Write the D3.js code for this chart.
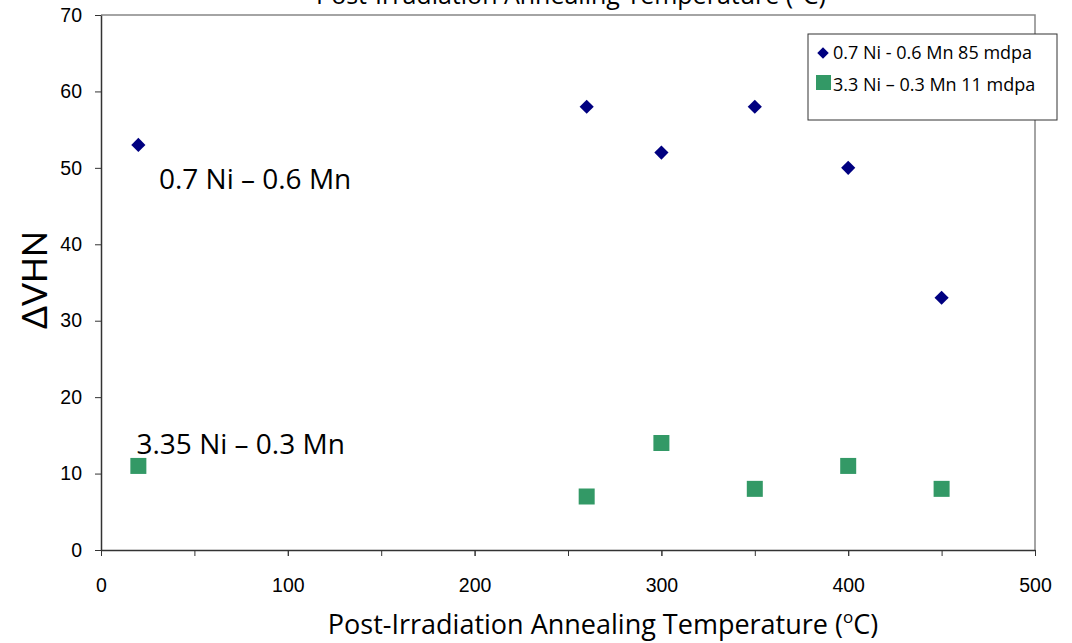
<!DOCTYPE html>
<html>
<head>
<meta charset="utf-8">
<script src="https://cdn.jsdelivr.net/npm/d3@7"></script>
<style>
  body { margin: 0; background: #fff; }
  .calib { font-family: "Open Sans", Lato, sans-serif; fill: #000; }
  .tick text { font-family: "Liberation Sans", Arial, sans-serif; font-size: 19.5px; fill: #000; }
</style>
</head>
<body>
<div class="chart"></div>
<script>
// annealing temperatures (C)
var tempsA = [20, 260, 300, 350, 400, 450];
var vhnA = [53, 58, 52, 58, 50, 33];

var tempsB = [20, 260, 300, 350, 400, 450];
var vhnB = [11, 7, 14, 8, 11, 8];

var seriesNames = ["0.7 Ni - 0.6 Mn 85 mdpa", "3.3 Ni \u2013 0.3 Mn 11 mdpa"];
var xTicks = [0, 100, 200, 300, 400, 500];
var yTicks = [0, 10, 20, 30, 40, 50, 60, 70];

var svgWidth = 1072;
var svgHeight = 643;

var margin = { top: 15, right: 37, bottom: 93, left: 101 };
var width = svgWidth - margin.left - margin.right;
var height = svgHeight - margin.top - margin.bottom;

var svg = d3.select(".chart")
  .append("svg")
  .attr("width", svgWidth)
  .attr("height", svgHeight);

var chartGroup = svg.append("g")
  .attr("transform", `translate(${margin.left}, ${margin.top})`);

var xScale = d3.scaleLinear().domain([0, 500]).range([0, width]);
var yScale = d3.scaleLinear().domain([0, 70]).range([height, 0]);

// top + right frame
chartGroup.append("path")
  .attr("d", `M0,0H${width}V${height}`)
  .attr("fill", "none")
  .attr("stroke", "#868686")
  .attr("stroke-width", 1.5);

// minor ticks every 50 on x
chartGroup.append("g")
  .attr("transform", `translate(0, ${height})`)
  .call(d3.axisBottom(xScale).tickValues(d3.range(0, 501, 50)).tickSize(6).tickFormat(""))
  .call(g => g.select(".domain").remove())
  .selectAll("line").attr("stroke", "#333");

var xAxis = chartGroup.append("g")
  .attr("transform", `translate(0, ${height})`)
  .call(d3.axisBottom(xScale).tickValues(xTicks).tickSize(6).tickPadding(22).tickSizeOuter(0));

var yAxis = chartGroup.append("g")
  .call(d3.axisLeft(yScale).tickValues(yTicks).tickSize(6).tickPadding(13).tickSizeOuter(0));

[xAxis, yAxis].forEach(function(ax) {
  ax.select(".domain").attr("stroke", "#333").attr("stroke-width", 1.5);
  ax.selectAll(".tick line").attr("stroke", "#333");
});

var dataA = tempsA.map((t, i) => ({ t: t, v: vhnA[i] }));
var dataB = tempsB.map((t, i) => ({ t: t, v: vhnB[i] }));

var diamond = d3.symbol().type(d3.symbolDiamond2).size(128);

chartGroup.selectAll(".ptA")
  .data(dataA)
  .enter()
  .append("path")
  .attr("class", "ptA")
  .attr("d", diamond)
  .attr("transform", d => `translate(${xScale(d.t)}, ${yScale(d.v)})`)
  .attr("fill", "#000080");

chartGroup.selectAll(".ptB")
  .data(dataB)
  .enter()
  .append("rect")
  .attr("class", "ptB")
  .attr("x", d => xScale(d.t) - 8)
  .attr("y", d => yScale(d.v) - 8)
  .attr("width", 16)
  .attr("height", 16)
  .attr("fill", "#339966");

// in-plot annotations
chartGroup.append("text")
  .attr("class", "calib")
  .attr("x", xScale(31))
  .attr("y", yScale(47.2))
  .attr("font-size", "28px")
  .text("0.7 Ni \u2013 0.6 Mn");

chartGroup.append("text")
  .attr("class", "calib")
  .attr("x", xScale(19))
  .attr("y", yScale(12.5))
  .attr("font-size", "28px")
  .text("3.35 Ni \u2013 0.3 Mn");

// legend
var legend = svg.append("g").attr("transform", "translate(808, 34)");
legend.append("rect")
  .attr("width", 249)
  .attr("height", 86)
  .attr("fill", "#fff")
  .attr("stroke", "#333")
  .attr("stroke-width", 1);

legend.append("path")
  .attr("d", d3.symbol().type(d3.symbolDiamond2).size(85))
  .attr("transform", "translate(15, 19)")
  .attr("fill", "#000080");
legend.append("rect")
  .attr("x", 8).attr("y", 41).attr("width", 15).attr("height", 15)
  .attr("fill", "#339966");

legend.selectAll(".ltext")
  .data(seriesNames)
  .enter()
  .append("text")
  .attr("class", "calib")
  .attr("x", 25)
  .attr("y", (d, i) => 25 + i * 32)
  .attr("font-size", "18px")
  .text(d => d);

// axis labels
var xLab = svg.append("text")
  .attr("class", "calib")
  .attr("x", 603)
  .attr("y", 634)
  .attr("text-anchor", "middle")
  .attr("font-size", "27px");
xLab.append("tspan").text("Post-Irradiation Annealing Temperature (");
xLab.append("tspan").attr("baseline-shift", "super").attr("font-size", "17px").text("o");
xLab.append("tspan").text("C)");

var title = svg.append("text")
  .attr("class", "calib")
  .attr("x", 571)
  .attr("y", 4)
  .attr("text-anchor", "middle")
  .attr("font-size", "25px");
title.append("tspan").text("Post-Irradiation Annealing Temperature (");
title.append("tspan").attr("baseline-shift", "super").attr("font-size", "16px").text("o");
title.append("tspan").text("C)");

svg.append("text")
  .attr("transform", "translate(47, 280) rotate(-90)")
  .attr("text-anchor", "middle")
  .attr("font-family", "Lato, sans-serif")
  .attr("font-size", "34px")
  .text("\u0394VHN");
</script>
</body>
</html>
